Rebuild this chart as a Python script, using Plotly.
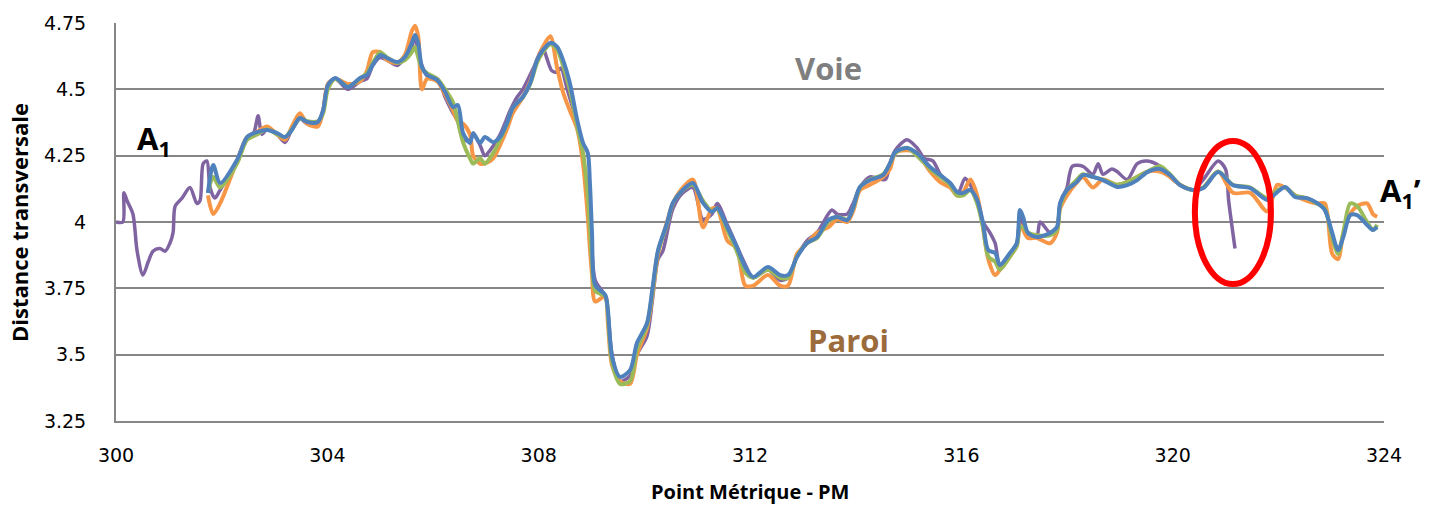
import plotly.graph_objects as go

# ---- data ----
pm = [301.74, 301.84, 301.97, 302.29, 302.48, 302.67, 302.86, 303.05, 303.20, 303.33,
      303.48, 303.62, 303.82, 303.92, 304.01, 304.15, 304.39, 304.62, 304.75, 304.86,
      305.00, 305.13, 305.32, 305.47, 305.60, 305.66, 305.72, 305.79, 305.89, 306.08,
      306.23, 306.38, 306.47, 306.57, 306.70, 306.76, 306.89, 306.98, 307.14, 307.27,
      307.40, 307.51, 307.70, 307.84, 307.97, 308.08, 308.22, 308.35, 308.46, 308.59,
      308.73, 308.84, 308.93, 308.97, 309.01, 309.07, 309.26, 309.31, 309.39, 309.54,
      309.73, 309.86, 310.05, 310.15, 310.26, 310.43, 310.54, 310.73, 310.92, 311.11,
      311.28, 311.38, 311.57, 311.75, 311.91, 312.06, 312.34, 312.57, 312.72, 312.89,
      313.08, 313.27, 313.48, 313.65, 313.84, 313.95, 314.08, 314.27, 314.52, 314.65,
      314.75, 314.97, 315.16, 315.41, 315.60, 315.79, 315.92, 316.03, 316.17, 316.30,
      316.41, 316.51, 316.64, 316.73, 316.92, 317.05, 317.11, 317.17, 317.26, 317.43,
      317.68, 317.81, 317.87, 318.00, 318.19, 318.30, 318.49, 318.68, 318.95, 319.14,
      319.33, 319.52, 319.76, 319.95, 320.14, 320.39, 320.58, 320.86, 321.14, 321.47,
      321.79, 321.98, 322.13, 322.32, 322.54, 322.73, 322.88, 323.02, 323.13, 323.23,
      323.36, 323.49, 323.68, 323.79, 323.87]

blue = [4.109, 4.215, 4.147, 4.234, 4.320, 4.339, 4.347, 4.335, 4.320, 4.347,
        4.392, 4.377, 4.377, 4.422, 4.516, 4.543, 4.509, 4.543, 4.554, 4.592,
        4.629, 4.618, 4.603, 4.622, 4.675, 4.705, 4.675, 4.584, 4.554, 4.535,
        4.490, 4.433, 4.441, 4.335, 4.298, 4.335, 4.298, 4.320, 4.301, 4.320,
        4.373, 4.430, 4.471, 4.524, 4.611, 4.648, 4.675, 4.660, 4.611, 4.524,
        4.384, 4.298, 4.260, 4.147, 3.959, 3.762, 3.725, 3.668, 3.491, 3.416,
        3.442, 3.544, 3.619, 3.744, 3.894, 3.996, 4.072, 4.121, 4.147, 4.072,
        4.038, 4.053, 3.981, 3.906, 3.830, 3.793, 3.830, 3.800, 3.800, 3.868,
        3.921, 3.943, 4.007, 4.019, 4.007, 4.053, 4.132, 4.158, 4.177, 4.222,
        4.264, 4.279, 4.260, 4.207, 4.177, 4.147, 4.113, 4.109, 4.121, 4.083,
        3.996, 3.894, 3.883, 3.838, 3.883, 3.921, 4.045, 4.019, 3.959, 3.943,
        3.959, 3.981, 4.072, 4.121, 4.151, 4.177, 4.170, 4.158, 4.132, 4.139,
        4.158, 4.188, 4.200, 4.177, 4.139, 4.121, 4.128, 4.188, 4.139, 4.128,
        4.083, 4.113, 4.132, 4.094, 4.090, 4.072, 4.045, 3.959, 3.894, 3.943,
        4.026, 4.026, 3.989, 3.970, 3.981]

orange = [4.10, 4.03, 4.07, 4.23, 4.32, 4.34, 4.36, 4.33, 4.31, 4.36,
          4.41, 4.37, 4.36, 4.42, 4.52, 4.54, 4.52, 4.53, 4.57, 4.64,
          4.64, 4.61, 4.60, 4.63, 4.72, 4.74, 4.70, 4.50, 4.54, 4.53,
          4.48, 4.42, 4.38, 4.37, 4.33, 4.25, 4.22, 4.22, 4.24, 4.29,
          4.35, 4.41, 4.47, 4.53, 4.61, 4.66, 4.70, 4.58, 4.49, 4.42,
          4.35, 4.22, 4.02, 3.90, 3.80, 3.70, 3.72, 3.62, 3.46, 3.40,
          3.39, 3.50, 3.60, 3.72, 3.88, 4.00, 4.07, 4.13, 4.16, 3.98,
          4.05, 4.05, 3.93, 3.90, 3.76, 3.76, 3.80, 3.76, 3.76, 3.88,
          3.92, 3.96, 3.98, 4.01, 4.00, 4.04, 4.12, 4.14, 4.17, 4.20,
          4.26, 4.27, 4.26, 4.19, 4.15, 4.13, 4.10, 4.11, 4.16, 4.10,
          3.98, 3.86, 3.80, 3.82, 3.87, 3.91, 3.99, 3.97, 3.94, 3.94,
          3.92, 3.96, 4.05, 4.10, 4.15, 4.17, 4.13, 4.16, 4.14, 4.15,
          4.17, 4.19, 4.19, 4.17, 4.14, 4.12, 4.13, 4.19, 4.11, 4.11,
          4.04, 4.14, 4.13, 4.10, 4.08, 4.07, 4.07, 3.88, 3.86, 3.96,
          4.03, 4.06, 4.07, 4.03, 4.02]

green = [4.11, 4.17, 4.13, 4.22, 4.31, 4.33, 4.35, 4.33, 4.32, 4.35,
         4.39, 4.38, 4.38, 4.41, 4.50, 4.54, 4.51, 4.54, 4.56, 4.60,
         4.64, 4.62, 4.60, 4.61, 4.64, 4.66, 4.62, 4.58, 4.56, 4.54,
         4.50, 4.45, 4.38, 4.30, 4.24, 4.22, 4.24, 4.22, 4.26, 4.31,
         4.37, 4.43, 4.47, 4.52, 4.60, 4.64, 4.67, 4.65, 4.59, 4.50,
         4.36, 4.26, 4.10, 3.98, 3.85, 3.74, 3.72, 3.65, 3.47, 3.39,
         3.40, 3.52, 3.61, 3.73, 3.89, 3.99, 4.07, 4.12, 4.14, 4.08,
         4.04, 4.05, 3.97, 3.89, 3.81, 3.79, 3.82, 3.79, 3.79, 3.87,
         3.92, 3.94, 4.00, 4.02, 4.01, 4.05, 4.13, 4.16, 4.18, 4.22,
         4.26, 4.28, 4.25, 4.20, 4.17, 4.14, 4.10, 4.10, 4.12, 4.07,
         3.98, 3.87, 3.85, 3.82, 3.87, 3.91, 3.98, 3.98, 3.96, 3.95,
         3.95, 3.97, 4.06, 4.12, 4.16, 4.18, 4.17, 4.16, 4.14, 4.15,
         4.17, 4.19, 4.21, 4.18, 4.14, 4.12, 4.13, 4.19, 4.14, 4.13,
         4.09, 4.12, 4.13, 4.10, 4.09, 4.07, 4.05, 3.94, 3.88, 3.96,
         4.07, 4.06, 4.00, 3.97, 3.99]

pm_purple = [300.00, 300.13, 300.15, 300.21, 300.32, 300.40, 300.51, 300.61, 300.70, 300.83,
             300.93, 301.02, 301.08, 301.12, 301.25, 301.40, 301.53, 301.59, 301.65, 301.72,
             301.78, 301.87, 301.97, 302.29, 302.48, 302.60, 302.69, 302.76, 302.86, 303.05,
             303.20, 303.33, 303.48, 303.62, 303.82, 303.92, 304.01, 304.15, 304.39, 304.62,
             304.75, 304.86, 305.00, 305.13, 305.32, 305.47, 305.60, 305.66, 305.72, 305.79,
             305.89, 306.08, 306.23, 306.38, 306.47, 306.57, 306.70, 306.76, 306.89, 306.98,
             307.08, 307.27, 307.46, 307.59, 307.70, 307.90, 308.08, 308.15, 308.25, 308.35,
             308.42, 308.54, 308.73, 308.84, 308.93, 309.00, 309.07, 309.26, 309.39, 309.54,
             309.73, 309.86, 310.05, 310.15, 310.26, 310.35, 310.54, 310.73, 310.92, 311.11,
             311.28, 311.38, 311.57, 311.75, 311.91, 312.06, 312.34, 312.57, 312.72, 312.89,
             313.08, 313.27, 313.55, 313.65, 313.84, 313.95, 314.08, 314.27, 314.56, 314.65,
             314.75, 314.97, 315.16, 315.30, 315.46, 315.60, 315.79, 315.92, 316.07, 316.17,
             316.30, 316.41, 316.54, 316.64, 316.73, 316.92, 317.05, 317.11, 317.17, 317.26,
             317.43, 317.49, 317.68, 317.81, 317.87, 318.00, 318.10, 318.30, 318.49, 318.59,
             318.68, 318.85, 318.95, 319.14, 319.33, 319.52, 319.76, 319.95, 320.14, 320.39,
             320.58, 320.86, 321.00, 321.06, 321.18]

purple = [4.00, 4.00, 4.11, 4.08, 4.03, 3.89, 3.80, 3.85, 3.89, 3.90,
          3.89, 3.92, 3.96, 4.06, 4.09, 4.13, 4.07, 4.08, 4.22, 4.23,
          4.13, 4.09, 4.12, 4.23, 4.31, 4.33, 4.40, 4.33, 4.35, 4.33,
          4.30, 4.35, 4.39, 4.37, 4.37, 4.42, 4.52, 4.54, 4.50, 4.53,
          4.54, 4.59, 4.62, 4.61, 4.59, 4.62, 4.66, 4.70, 4.64, 4.59,
          4.55, 4.54, 4.47, 4.41, 4.38, 4.31, 4.31, 4.33, 4.29, 4.25,
          4.27, 4.33, 4.42, 4.47, 4.50, 4.58, 4.655, 4.62, 4.57, 4.565,
          4.58, 4.50, 4.37, 4.25, 4.05, 3.92, 3.78, 3.72, 3.50, 3.40,
          3.42, 3.50, 3.57, 3.70, 3.86, 3.89, 4.05, 4.11, 4.13, 4.01,
          4.03, 4.07, 3.99, 3.91, 3.84, 3.79, 3.82, 3.78, 3.79, 3.87,
          3.93, 3.96, 4.045, 4.03, 4.03, 4.07, 4.13, 4.17, 4.16, 4.22,
          4.27, 4.31, 4.28, 4.24, 4.23, 4.18, 4.14, 4.10, 4.165, 4.14,
          4.08, 4.00, 3.96, 3.92, 3.84, 3.88, 3.92, 4.02, 3.99, 3.96,
          3.95, 4.00, 3.96, 3.98, 4.07, 4.13, 4.21, 4.21, 4.18, 4.22,
          4.18, 4.20, 4.19, 4.16, 4.22, 4.23, 4.21, 4.17, 4.14, 4.12,
          4.16, 4.23, 4.20, 4.08, 3.90]

x_ticks = [300, 304, 308, 312, 316, 320, 324]
y_ticks = [3.25, 3.5, 3.75, 4, 4.25, 4.5, 4.75]
y_tick_text = ["3.25", "3.5", "3.75", "4", "4.25", "4.5", "4.75"]

# ---- figure ----
fig = go.Figure()
line_shape = dict(shape="spline", smoothing=0.8)
fig.add_trace(go.Scatter(x=pm_purple, y=purple, mode="lines",
                         line=dict(color="#8064A2", width=3.5, **line_shape), name="S1"))
fig.add_trace(go.Scatter(x=pm, y=orange, mode="lines",
                         line=dict(color="#F79646", width=4, **line_shape), name="S2"))
fig.add_trace(go.Scatter(x=pm, y=green, mode="lines",
                         line=dict(color="#9BBB59", width=4, **line_shape), name="S3"))
fig.add_trace(go.Scatter(x=pm, y=blue, mode="lines",
                         line=dict(color="#4F81BD", width=4, **line_shape), name="S4"))

fig.add_shape(type="circle", xref="x", yref="y",
              x0=320.42, x1=321.86, y0=3.766, y1=4.305,
              line=dict(color="#FF0000", width=6))

FONT = "Open Sans, Arial, sans-serif"
tick_font = dict(family="DejaVu Sans, Open Sans, sans-serif", size=19, color="#000000")

fig.update_layout(
    width=1433, height=506,
    margin=dict(l=116, r=49, t=23, b=85, autoexpand=False),
    paper_bgcolor="white", plot_bgcolor="white",
    showlegend=False,
    xaxis=dict(range=[300, 324], tickvals=x_ticks, ticktext=[str(v) for v in x_ticks],
               showgrid=False, zeroline=False, showline=True, linecolor="#868686",
               linewidth=2, ticks="", tickfont=tick_font, ticklabelstandoff=16,
               automargin=False),
    yaxis=dict(range=[3.25, 4.75], tickvals=y_ticks, ticktext=y_tick_text,
               showgrid=True, gridcolor="#868686", gridwidth=2, zeroline=False,
               showline=True, linecolor="#868686", linewidth=2, ticks="",
               tickfont=tick_font, ticklabelstandoff=24, automargin=False),
)

# axis titles
fig.add_annotation(x=0.5, y=-0.178, xref="paper", yref="paper", yanchor="middle",
                   text="<b>Point Métrique - PM</b>", showarrow=False,
                   font=dict(family=FONT, size=20, color="#000000"))
fig.add_annotation(x=-0.0765, y=0.5, xref="paper", yref="paper", xanchor="center",
                   text="<b>Distance transversale</b>", showarrow=False, textangle=-90,
                   font=dict(family=FONT, size=22, color="#000000"))

fig.add_annotation(x=313.48, y=4.58, xref="x", yref="y", text="<b>Voie</b>", showarrow=False,
                   font=dict(family=FONT, size=31, color="#7F7F7F"))
fig.add_annotation(x=313.86, y=3.555, xref="x", yref="y", text="<b>Paroi</b>", showarrow=False,
                   font=dict(family=FONT, size=31, color="#9C6B3C"))
fig.add_annotation(x=300.72, y=4.31, xref="x", yref="y", text="<b>A<sub>1</sub></b>",
                   showarrow=False, font=dict(family=FONT, size=31, color="#000000"))
fig.add_annotation(x=1.031, y=0.575, xref="paper", yref="paper", xanchor="right",
                   text="<b>A<sub>1</sub>’</b>",
                   showarrow=False, font=dict(family=FONT, size=31, color="#000000"))

fig.write_html("out.html", config={"displayModeBar": False})

# remove the default 8px page margin so the figure fills the window exactly
with open("out.html", "r", encoding="utf-8") as f:
    html = f.read()
html = html.replace("<body>", '<body style="margin:0;padding:0;overflow:hidden">', 1)
with open("out.html", "w", encoding="utf-8") as f:
    f.write(html)
